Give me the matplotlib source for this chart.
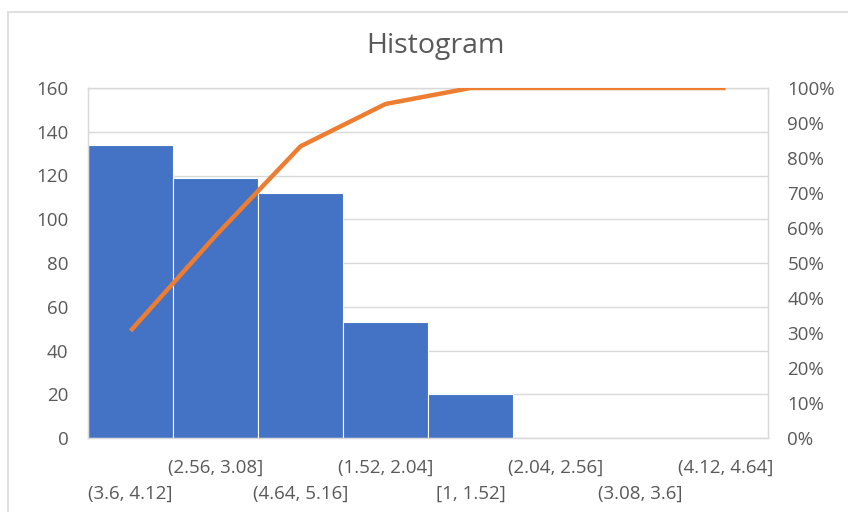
import numpy as np
import matplotlib.pyplot as plt
from matplotlib.patches import Rectangle
from matplotlib.ticker import PercentFormatter

# histogram bins sorted by count (Pareto order)
bins = ['(3.6, 4.12]', '(2.56, 3.08]', '(4.64, 5.16]', '(1.52, 2.04]',
        '[1, 1.52]', '(2.04, 2.56]', '(3.08, 3.6]', '(4.12, 4.64]']
counts = [134, 119, 112, 53, 20, 0, 0, 0]

cum_pct = np.cumsum(counts) / np.sum(counts) * 100

plt.rcParams['font.family'] = ['Open Sans', 'DejaVu Sans']
txt_color = '#595959'
grid_color = '#d9d9d9'

fig = plt.figure(figsize=(8.48, 5.12), dpi=100)
fig.patch.set_facecolor('white')
# outer chart border
fig.patches.append(Rectangle((8 / 848, -0.05), 1.0, 1 - 12 / 512 + 0.05,
                             transform=fig.transFigure, fill=False,
                             edgecolor='#d9d9d9', lw=1.2))

ax = fig.add_axes([88 / 848, 1 - 438 / 512, 680 / 848, 350 / 512])
x = np.arange(len(bins))
ax.bar(x, counts, width=1.0, color='#4472C4', edgecolor='white', lw=0.8, zorder=2)
ax.set_xlim(-0.5, len(bins) - 0.5)
ax.set_ylim(0, 160)
ax.set_yticks(np.arange(0, 161, 20))
ax.yaxis.grid(True, color=grid_color, lw=1, zorder=0)
ax.set_axisbelow(True)
for s in ax.spines.values():
    s.set_color(grid_color)
    s.set_linewidth(1)
ax.tick_params(axis='y', length=0, pad=14, labelsize=13.5, labelcolor=txt_color)

# staggered category labels: odd ones on the upper row, even ones below
ax.set_xticks(x[1::2])
ax.set_xticklabels(bins[1::2])
ax.set_xticks(x[0::2], minor=True)
ax.set_xticklabels(bins[0::2], minor=True)
ax.tick_params(axis='x', which='major', length=0, pad=15, labelsize=13.5, labelcolor=txt_color)
ax.tick_params(axis='x', which='minor', length=0, pad=33.5, labelsize=13.5, labelcolor=txt_color)

ax2 = ax.twinx()
ax2.plot(x, cum_pct, color='#ED7D31', lw=3.2, solid_capstyle='butt', zorder=3)
ax2.set_ylim(0, 100)
ax2.set_yticks(np.arange(0, 101, 10))
ax2.yaxis.set_major_formatter(PercentFormatter(decimals=0))
ax2.tick_params(axis='y', length=0, pad=14, labelsize=13.5, labelcolor=txt_color)
for s in ax2.spines.values():
    s.set_color(grid_color)

fig.text(435 / 848, 1 - 46 / 512, 'Histogram', ha='center', va='center',
         fontsize=20.5, color=txt_color)

fig.savefig('out.png', dpi=100)
